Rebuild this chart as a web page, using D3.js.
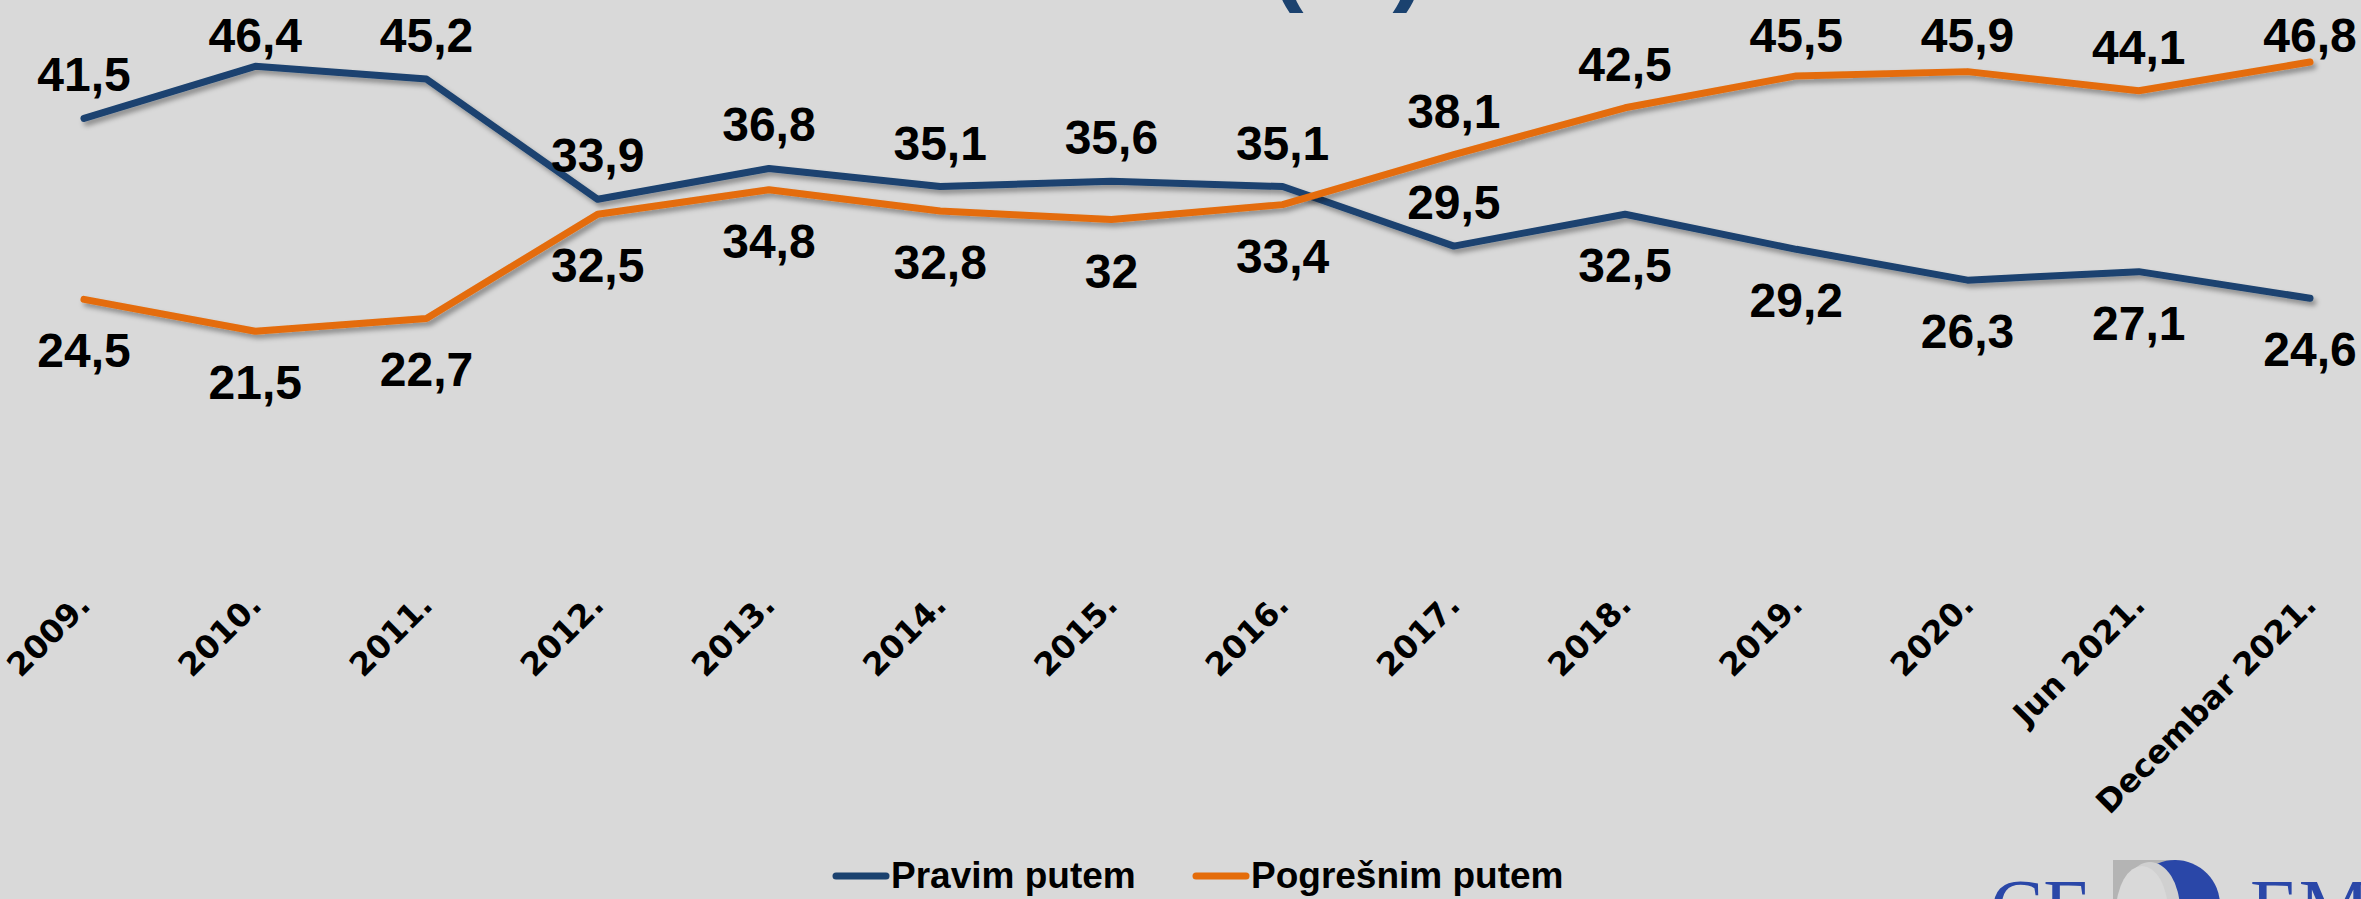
<!DOCTYPE html>
<html>
<head>
<meta charset="utf-8">
<script src="https://cdn.jsdelivr.net/npm/d3@7"></script>
<style>
  html, body { margin: 0; padding: 0; background: #d9d9d9; overflow: hidden; }
</style>
</head>
<body>
<main></main>
<script>
// categories and values
const categories = ['2009.', '2010.', '2011.', '2012.', '2013.', '2014.', '2015.', '2016.', '2017.', '2018.', '2019.', '2020.', 'Jun 2021.', 'Decembar 2021.']
const pravim = [41.5, 46.4, 45.2, 33.9, 36.8, 35.1, 35.6, 35.1, 29.5, 32.5, 29.2, 26.3, 27.1, 24.6]
const pogresnim = [24.5, 21.5, 22.7, 32.5, 34.8, 32.8, 32, 33.4, 38.1, 42.5, 45.5, 45.9, 44.1, 46.8]
// label side per point: 'a' above the line, 'b' below
const pravimLabelSide = ['a', 'a', 'a', 'a', 'a', 'a', 'a', 'a', 'a', 'b', 'b', 'b', 'b', 'b']
const pogresnimLabelSide = ['b', 'b', 'b', 'b', 'b', 'b', 'b', 'b', 'a', 'a', 'a', 'a', 'a', 'a']
const seriesNames = ['Pravim putem', 'Pogrešnim putem']

const W = 2361
const H = 899
const colors = { blue: '#1b426f', orange: '#e46c0a' }

const series = [
  { name: seriesNames[0], values: pravim, sides: pravimLabelSide, color: colors.blue },
  { name: seriesNames[1], values: pogresnim, sides: pogresnimLabelSide, color: colors.orange }
]

const svg = d3.select('main')
  .append('svg')
  .attr('width', W)
  .attr('height', H)
  .style('display', 'block')
  .style('background', '#d9d9d9')

// soft shadow under the lines
const filter = svg.append('defs').append('filter')
  .attr('id', 'shadow')
  .attr('x', '-5%').attr('y', '-20%')
  .attr('width', '110%').attr('height', '140%')
filter.append('feDropShadow')
  .attr('dx', 3)
  .attr('dy', 4)
  .attr('stdDeviation', 2.5)
  .attr('flood-color', '#000')
  .attr('flood-opacity', 0.35)

const x = d3.scalePoint()
  .domain(categories)
  .range([84, 2310])
const y = d3.scaleLinear()
  .domain([0, 50])
  .range([560, 28])

// title, mostly cut off at the top of the crop
svg.append('text')
  .attr('x', 1348)
  .attr('y', -8)
  .attr('text-anchor', 'middle')
  .style('font-family', 'Liberation Sans, Arial, sans-serif')
  .style('font-weight', 'bold')
  .style('font-size', '100px')
  .style('fill', '#1b426f')
  .text('(%)')

const line = d3.line()
  .x((d, i) => x(categories[i]))
  .y(d => y(d))

svg.selectAll('.series')
  .data(series)
  .enter()
  .append('path')
  .attr('class', 'series')
  .attr('d', d => line(d.values))
  .attr('fill', 'none')
  .attr('stroke', d => d.color)
  .attr('stroke-width', 7)
  .attr('stroke-linejoin', 'round')
  .attr('stroke-linecap', 'round')
  .attr('filter', 'url(#shadow)')

// data labels
series.forEach(s => {
  svg.append('g')
    .selectAll('text')
    .data(s.values)
    .enter()
    .append('text')
    .attr('x', (d, i) => x(categories[i]))
    .attr('y', (d, i) => s.sides[i] === 'a' ? Math.max(y(d) - 27, 52) : y(d) + 68)
    .attr('text-anchor', 'middle')
    .style('font-family', 'Liberation Sans, Arial, sans-serif')
    .style('font-weight', 'bold')
    .style('font-size', '48px')
    .style('fill', '#000')
    .text(d => String(d).replace('.', ','))
})

// x axis labels, rotated
svg.append('g')
  .selectAll('text')
  .data(categories)
  .enter()
  .append('text')
  .attr('transform', d => 'translate(' + (x(d) + 8) + ',607) rotate(-45)')
  .attr('text-anchor', 'end')
  .style('font-family', 'DejaVu Sans, sans-serif')
  .style('font-weight', 'bold')
  .style('font-size', '32px')
  .style('fill', '#000')
  .text(d => d)

// legend
const legend = svg.append('g')
  .selectAll('g')
  .data(series)
  .enter()
  .append('g')
  .attr('transform', (d, i) => 'translate(' + [833, 1193][i] + ',876)')
legend.append('line')
  .attr('x1', 3).attr('x2', 53)
  .attr('y1', 0).attr('y2', 0)
  .attr('stroke', d => d.color)
  .attr('stroke-width', 7)
  .attr('stroke-linecap', 'round')
legend.append('text')
  .attr('x', 58)
  .attr('y', 12)
  .style('font-family', 'Liberation Sans, Arial, sans-serif')
  .style('font-weight', 'bold')
  .style('font-size', '37px')
  .style('fill', '#000')
  .text(d => d.name)

// logo, cut off at the bottom
const logo = svg.append('g')
logo.append('text')
  .attr('x', 1990)
  .attr('y', 935)
  .style('font-family', 'Liberation Serif, Times New Roman, serif')
  .style('font-size', '80px')
  .style('fill', '#2a47a8')
  .text('CE')
logo.append('rect')
  .attr('x', 2113).attr('y', 860)
  .attr('width', 64).attr('height', 60)
  .attr('fill', '#b4b4b4')
logo.append('circle')
  .attr('cx', 2175).attr('cy', 905)
  .attr('r', 45)
  .attr('fill', '#2a47a8')
logo.append('ellipse')
  .attr('cx', 2150).attr('cy', 910)
  .attr('rx', 30).attr('ry', 48)
  .attr('fill', '#d0d0d0')
logo.append('ellipse')
  .attr('cx', 2142).attr('cy', 912)
  .attr('rx', 26).attr('ry', 46)
  .attr('fill', '#d9d9d9')
logo.append('text')
  .attr('x', 2250)
  .attr('y', 935)
  .style('font-family', 'Liberation Serif, Times New Roman, serif')
  .style('font-size', '80px')
  .style('fill', '#2a47a8')
  .text('EM')
</script>
</body>
</html>
